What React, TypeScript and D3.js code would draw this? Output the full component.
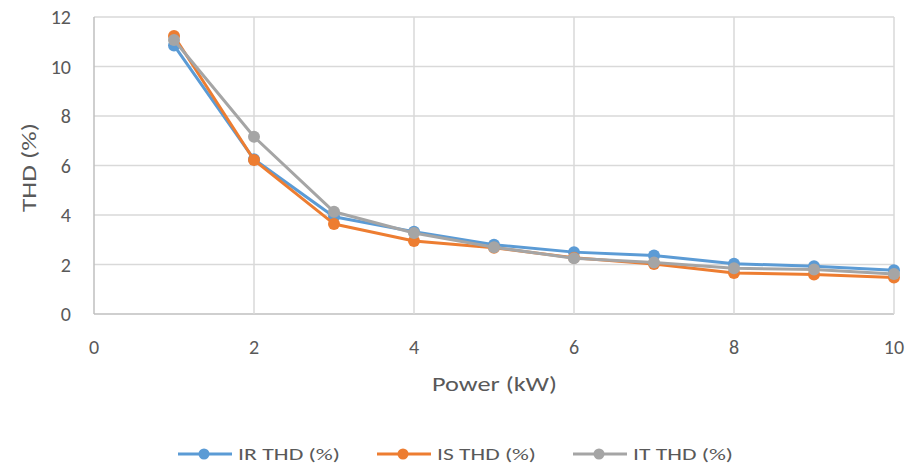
import React from "react";
import * as d3 from "d3";

const power = [1, 2, 3, 4, 5, 6, 7, 8, 9, 10];
const irThd = [10.85, 6.25, 3.93, 3.32, 2.8, 2.5, 2.36, 2.03, 1.93, 1.77];
const isThd = [11.23, 6.22, 3.64, 2.95, 2.68, 2.27, 2.02, 1.66, 1.6, 1.47];
const itThd = [11.07, 7.16, 4.13, 3.27, 2.7, 2.25, 2.08, 1.85, 1.8, 1.62];
const xTicks = [0, 2, 4, 6, 8, 10];
const yTicks = [0, 2, 4, 6, 8, 10, 12];
const seriesNames = ["IR THD (%)", "IS THD (%)", "IT THD (%)"];
const seriesColors = ["#5B9BD5", "#ED7D31", "#A5A5A5"];

const W = 912;
const H = 466;
const FONT = "Carlito, Lato, 'Liberation Sans Narrow', sans-serif";

export default function App() {
  const x = d3.scaleLinear().domain([0, 10]).range([94, 894]);
  const y = d3.scaleLinear().domain([0, 12]).range([314, 17]);
  const series = [irThd, isThd, itThd];
  const line = d3
    .line<[number, number]>()
    .x((d) => x(d[0]))
    .y((d) => y(d[1]));
  const legendX = [178, 377, 573];
  const legendTextW = [102, 99, 100];
  const legendY = 454;
  return (
    <svg width={W} height={H} style={{ position: "absolute", left: 0, top: 0, background: "#fff" }}>
      <rect x={0} y={0} width={W} height={H} fill="#fff" />
      {yTicks.map((t) => (
        <line key={"gy" + t} x1={x(0)} x2={x(10)} y1={y(t)} y2={y(t)} stroke={t === 0 ? "#BFBFBF" : "#D9D9D9"} strokeWidth={1.5} />
      ))}
      {xTicks.map((t) => (
        <line key={"gx" + t} x1={x(t)} x2={x(t)} y1={y(0)} y2={y(12)} stroke={t === 0 ? "#BFBFBF" : "#D9D9D9"} strokeWidth={1.5} />
      ))}
      {yTicks.map((t) => (
        <text key={"ty" + t} x={71} y={y(t)} dy="0.35em" textAnchor="end" fontFamily={FONT} fontSize={20} fill="#595959">
          {t}
        </text>
      ))}
      {xTicks.map((t) => (
        <text key={"tx" + t} x={x(t)} y={347} dy="0.35em" textAnchor="middle" fontFamily={FONT} fontSize={20} fill="#595959">
          {t}
        </text>
      ))}
      <text x={432} y={384} dy="0.35em" fontFamily={FONT} fontSize={20} fill="#595959" textLength={125} lengthAdjust="spacingAndGlyphs">
        Power (kW)
      </text>
      <text transform={`translate(29,212) rotate(-90)`} dy="0.35em" fontFamily={FONT} fontSize={20} fill="#595959" textLength={89} lengthAdjust="spacingAndGlyphs">
        THD (%)
      </text>
      {series.map((s, i) => {
        const pts = power.map((p, j) => [p, s[j]] as [number, number]);
        return (
          <g key={"s" + i}>
            <path d={line(pts) || ""} fill="none" stroke={seriesColors[i]} strokeWidth={3} strokeLinejoin="round" />
            {pts.map((d, j) => (
              <circle key={j} cx={x(d[0])} cy={y(d[1])} r={6} fill={seriesColors[i]} />
            ))}
          </g>
        );
      })}
      {seriesNames.map((n, i) => (
        <g key={"l" + i}>
          <line x1={legendX[i]} x2={legendX[i] + 54} y1={legendY} y2={legendY} stroke={seriesColors[i]} strokeWidth={3} />
          <circle cx={legendX[i] + 26} cy={legendY} r={5.5} fill={seriesColors[i]} />
          <text x={legendX[i] + 60} y={legendY} dy="0.35em" fontFamily={FONT} fontSize={17} fill="#595959" textLength={legendTextW[i]} lengthAdjust="spacingAndGlyphs">
            {n}
          </text>
        </g>
      ))}
    </svg>
  );
}
